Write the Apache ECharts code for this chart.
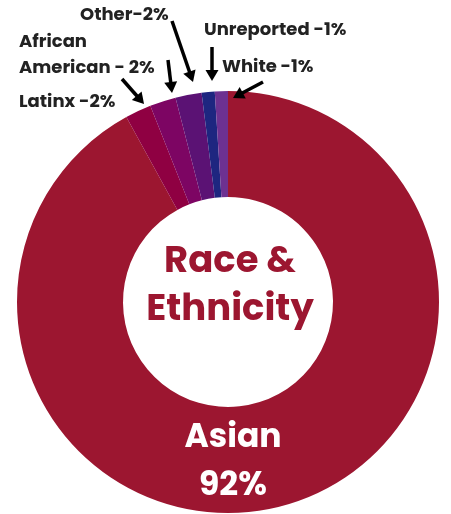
<!DOCTYPE html>
<html>
<head>
<meta charset="utf-8">
<script src="https://cdn.jsdelivr.net/npm/echarts@6/dist/echarts.min.js"></script>
<style>
html,body{margin:0;padding:0;background:#fff;}
#chart{width:451px;height:514px;}
</style>
</head>
<body>
<div id="chart"></div>
<script>
// ---- data ----
var categories = ['Asian', 'Latinx', 'African American', 'Other', 'Unreported', 'White'];
var values = [92, 2, 2, 2, 1, 1];
var labelTexts = ['Asian\n92%', 'Latinx -2%', 'African\nAmerican - 2%', 'Other-2%', 'Unreported -1%', 'White -1%'];
var colors = ['#9C1630', '#8F0042', '#7D0563', '#5B1274', '#1E2680', '#6D3191'];
var centerTitle = 'Race &\nEthnicity';

// ---- layout (annotation positions) ----
var labelPos = [
  {x: 233, y: 463, align: 'center'},
  {x: 19, y: 102, align: 'left'},
  {x: 19, y: 55, align: 'left'},
  {x: 80, y: 15, align: 'left'},
  {x: 204, y: 30, align: 'left'},
  {x: 222, y: 67, align: 'left'}
];
var arrows = [
  [[122, 79], [144, 104]],
  [[168, 60], [172, 93]],
  [[172, 21], [193, 82]],
  [[212, 47], [212, 81]],
  [[263, 82], [233, 98]]
];

var font = 'Poppins, Inter, "Open Sans", sans-serif';

function arrowGraphics() {
  var out = [];
  arrows.forEach(function (a) {
    var x1 = a[0][0], y1 = a[0][1], x2 = a[1][0], y2 = a[1][1];
    var dx = x2 - x1, dy = y2 - y1, L = Math.sqrt(dx * dx + dy * dy);
    var ux = dx / L, uy = dy / L, px = -uy, py = ux;
    var hl = 11, hw = 6.5;
    var bx = x2 - ux * hl, by = y2 - uy * hl;
    out.push({
      type: 'line', silent: true, z: 100,
      shape: {x1: x1, y1: y1, x2: bx + ux, y2: by + uy},
      style: {stroke: '#000', lineWidth: 3.5}
    });
    out.push({
      type: 'polygon', silent: true, z: 100,
      shape: {points: [[x2, y2], [bx + px * hw, by + py * hw], [bx - px * hw, by - py * hw]]},
      style: {fill: '#000'}
    });
  });
  return out;
}

var chart = echarts.init(document.getElementById('chart'), null, {renderer: 'canvas'});
var data = categories.map(function (c, i) {
  return {
    name: c, value: values[i],
    itemStyle: {color: colors[i]},
    label: i === 0 ? {color: '#fff', fontSize: 33, lineHeight: 48, fontWeight: 'bold'} : {}
  };
});

chart.setOption({
  animation: false,
  graphic: [{
    type: 'text', silent: true, z: 100,
    style: {
      text: centerTitle, x: 230, y: 287, align: 'center', verticalAlign: 'middle',
      fill: '#9C1630', font: 'bold 37px ' + font, lineHeight: 48
    }
  }].concat(arrowGraphics()),
  series: [{
    type: 'pie',
    center: [228, 302],
    radius: [105, 211],
    startAngle: 90,
    clockwise: true,
    avoidLabelOverlap: false,
    labelLine: {show: false},
    emphasis: {disabled: true},
    label: {
      show: true,
      position: 'outside',
      color: '#222',
      fontFamily: font,
      fontWeight: 'bold',
      fontSize: 18,
      lineHeight: 26,
      formatter: function (p) { return labelTexts[p.dataIndex]; }
    },
    labelLayout: function (p) {
      var lp = labelPos[p.dataIndex];
      return {x: lp.x, y: lp.y, align: lp.align, verticalAlign: 'middle'};
    },
    data: data
  }]
});
</script>
</body>
</html>
